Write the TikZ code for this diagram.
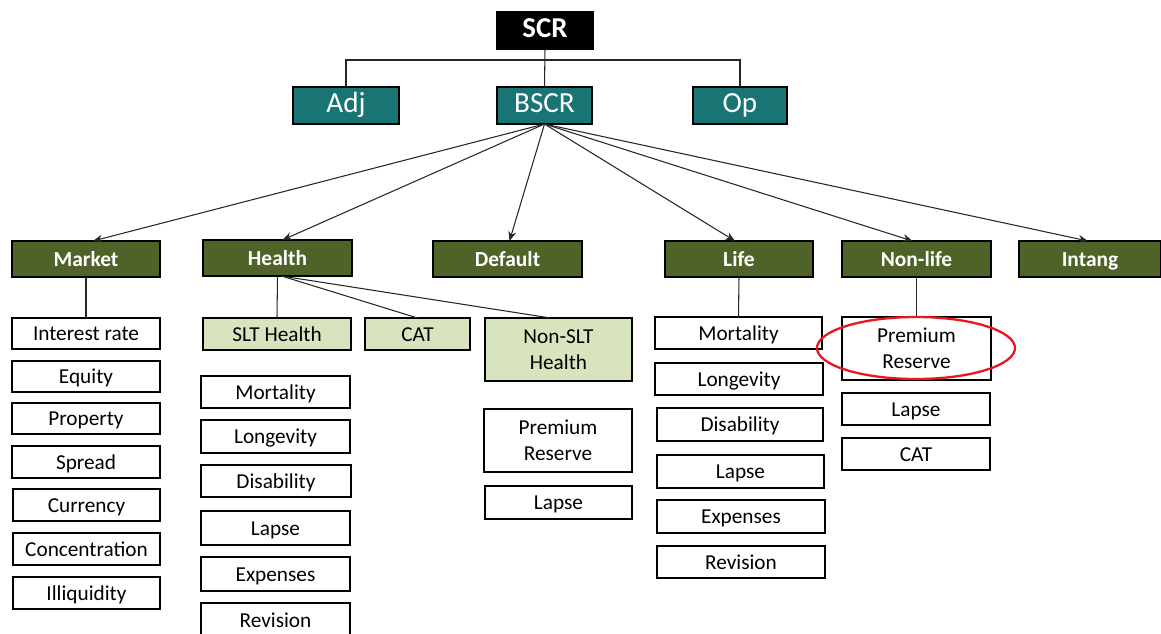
\documentclass[tikz,border=0pt]{standalone}
\usepackage{fontspec}
\setmainfont{Carlito}
\usetikzlibrary{arrows.meta,shapes.geometric}

\definecolor{hdteal}{RGB}{25,116,116}
\definecolor{hdgreen}{RGB}{79,98,40}
\definecolor{subgreen}{RGB}{215,228,189}
\definecolor{ringred}{RGB}{232,22,30}

% box by corners: style, name, x1, y1, x2, y2, text
\newcommand\placebox[7]{%
  \node[#1, minimum width={(#5-#3)*0.02cm}, minimum height={(#6-#4)*0.02cm}]
    (#2) at ({(#3+#5)/2},{(#4+#6)/2}) {#7};}

\begin{document}
\begin{tikzpicture}[x=0.02cm,y=-0.02cm,
  base/.style={draw=black, line width=1.1pt, inner sep=0pt, outer sep=0pt, align=center},
  bigline/.style={text height=0.8em, text depth=0em},
  headline/.style={text height=0.94em, text depth=0.04em},
  oneline/.style={text height=0.88em, text depth=0.04em},
  topbox/.style={base, bigline, fill=black, text=white, font=\fontsize{16.4}{18}\selectfont\bfseries},
  midbox/.style={base, bigline, fill=hdteal, text=white, font=\fontsize{16.6}{18}\selectfont},
  riskbox/.style={base, headline, fill=hdgreen, text=white, font=\fontsize{12.2}{14}\selectfont\bfseries},
  subbox/.style={base, oneline, fill=subgreen, font=\fontsize{12.1}{14.8}\selectfont},
  leafbox/.style={base, oneline, fill=white, font=\fontsize{12.1}{14.8}\selectfont},
  twoline/.style={text height={}, text depth={}},
  conn/.style={line width=0.6pt, draw=black!85},
  arr/.style={conn, -{Stealth[length=5.5pt,width=4.5pt]}}
]
\clip (0,0) rectangle (1161,633);
\fill[white] (0,0) rectangle (1161,633);

% top levels
\placebox{topbox}{SCR}{497}{12}{593}{49}{SCR}
\placebox{midbox}{Adj}{293}{87}{399}{124}{Adj}
\placebox{midbox}{BSCR}{497}{87}{592}{124}{BSCR}
\placebox{midbox}{Op}{693}{87}{787}{124}{Op}

\coordinate (bus) at (546,60);
\draw[conn] (SCR.south) -- (BSCR.north);
\draw[conn] (Adj.north) |- (bus) -| (Op.north);

% risk modules
\placebox{riskbox}{Market}{12}{241}{160}{277}{Market}
\placebox{riskbox}{Health}{203}{240}{352}{276}{Health}
\placebox{riskbox}{Default}{433}{241}{582}{277}{Default}
\placebox{riskbox}{Life}{665}{241}{813}{277}{Life}
\placebox{riskbox}{Nonlife}{842}{241}{991}{277}{Non-life}
\placebox{riskbox}{Intang}{1019}{241}{1161}{277}{Intang}

\draw[arr] (BSCR.south) -- ([xshift=7*0.02cm]Market.north);
\draw[arr] (BSCR.south) -- ([xshift=5*0.02cm]Health.north);
\draw[arr] (BSCR.south) -- ([xshift=2*0.02cm]Default.north);
\draw[arr] (BSCR.south) -- ([xshift=-4*0.02cm]Life.north);
\draw[arr] (BSCR.south) -- ([xshift=-4*0.02cm]Nonlife.north);
\draw[arr] (BSCR.south) -- ([xshift=-2*0.02cm]Intang.north);

% market sub-modules
\placebox{leafbox}{MIR}{12}{318}{160}{349}{Interest rate}
\placebox{leafbox}{MEq}{12}{361}{160}{392}{Equity}
\placebox{leafbox}{MProp}{12}{403}{160}{434}{Property}
\placebox{leafbox}{MSpr}{12}{446}{160}{478}{Spread}
\placebox{leafbox}{MCur}{13}{489}{160}{521}{Currency}
\placebox{leafbox}{MConc}{13}{533}{160}{565}{Concentration}
\placebox{leafbox}{MIll}{13}{577}{160}{609}{Illiquidity}
\draw[conn] (Market.south) -- (MIR.north);

% health sub-modules
\placebox{subbox}{HSLT}{203}{318}{351}{350}{SLT Health}
\placebox{subbox}{HCAT}{365}{318}{470}{350}{CAT}
\placebox{subbox,twoline}{HNSLT}{485}{318}{632}{381}{Non-SLT\\Health}
\draw[conn] (Health.south) -- (HSLT.north);
\draw[conn] ([xshift=4*0.02cm]Health.south) -- (HCAT.north);
\draw[conn] ([xshift=4*0.02cm]Health.south) -- ([xshift=-8*0.02cm]HNSLT.north);

\placebox{leafbox}{HMort}{201}{376}{350}{408}{Mortality}
\placebox{leafbox}{HLong}{201}{420}{350}{453}{Longevity}
\placebox{leafbox}{HDis}{201}{465}{351}{497}{Disability}
\placebox{leafbox}{HLap}{201}{511}{350}{545}{Lapse}
\placebox{leafbox}{HExp}{201}{557}{350}{591}{Expenses}
\placebox{leafbox}{HRev}{201}{603}{350}{637}{Revision}

\placebox{leafbox,twoline}{NPrem}{484}{409}{632}{472}{Premium\\Reserve}
\placebox{leafbox}{NLap}{485}{486}{632}{519}{Lapse}

% life sub-modules
\placebox{leafbox}{LMort}{655}{317}{822}{349}{Mortality}
\placebox{leafbox}{LLong}{655}{363}{823}{395}{Longevity}
\placebox{leafbox}{LDis}{657}{408}{823}{441}{Disability}
\placebox{leafbox}{LLap}{657}{455}{824}{488}{Lapse}
\placebox{leafbox}{LExp}{657}{500}{825}{533}{Expenses}
\placebox{leafbox}{LRev}{657}{546}{825}{578}{Revision}
\draw[conn] (Life.south) -- (LMort.north);

% non-life sub-modules
\placebox{leafbox,twoline}{NLPrem}{842}{317}{991}{380}{Premium\\Reserve}
\placebox{leafbox}{NLLap}{842}{393}{990}{425}{Lapse}
\placebox{leafbox}{NLCAT}{842}{438}{990}{470}{CAT}
\draw[conn] (Nonlife.south) -- (NLPrem.north);

% highlight ring
\node[ellipse, draw=ringred, line width=1.3pt, inner sep=0pt,
  minimum width=198*0.02cm, minimum height=62*0.02cm] (ring) at (916,348) {};
\end{tikzpicture}
\end{document}
